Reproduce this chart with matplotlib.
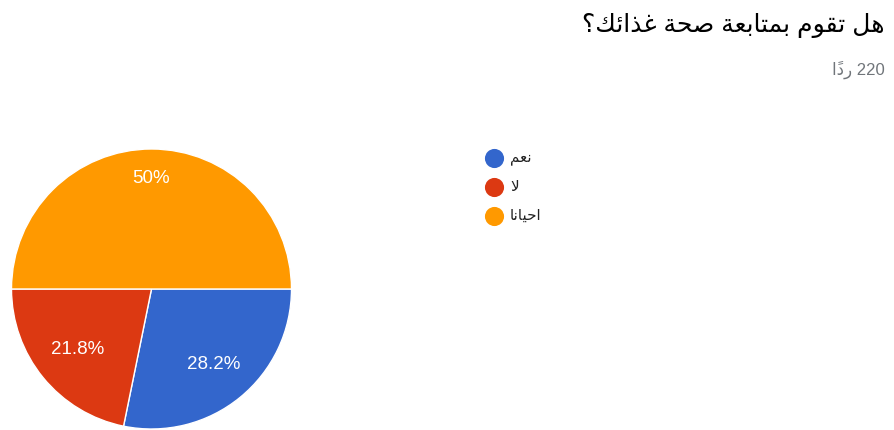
import matplotlib
matplotlib.use('Agg')
import matplotlib.pyplot as plt
import numpy as np

plt.rcParams['font.family'] = ['Liberation Sans', 'DejaVu Sans']

TITLE = 'هل تقوم بمتابعة صحة غذائك؟'
SUBTITLE = '220 رداً'
CATEGORIES = ['نعم', 'لا', 'احيانا']
SHARES = [28.2, 21.8, 50.0]
COLORS = ['#3366CC', '#DC3912', '#FF9900']

# Arabic presentation forms: (isolated, final[, initial, medial])
LAM_ALEF = '\uFEFB'
FORMS = {
    'ا': (0xFE8D, 0xFE8E),
    'ب': (0xFE8F, 0xFE90, 0xFE91, 0xFE92),
    'ة': (0xFE93, 0xFE94),
    'ت': (0xFE95, 0xFE96, 0xFE97, 0xFE98),
    'ح': (0xFEA1, 0xFEA2, 0xFEA3, 0xFEA4),
    'د': (0xFEA9, 0xFEAA),
    'ذ': (0xFEAB, 0xFEAC),
    'ر': (0xFEAD, 0xFEAE),
    'ص': (0xFEB9, 0xFEBA, 0xFEBB, 0xFEBC),
    'ع': (0xFEC9, 0xFECA, 0xFECB, 0xFECC),
    'غ': (0xFECD, 0xFECE, 0xFECF, 0xFED0),
    'ق': (0xFED5, 0xFED6, 0xFED7, 0xFED8),
    'ك': (0xFED9, 0xFEDA, 0xFEDB, 0xFEDC),
    'ل': (0xFEDD, 0xFEDE, 0xFEDF, 0xFEE0),
    'م': (0xFEE1, 0xFEE2, 0xFEE3, 0xFEE4),
    'ن': (0xFEE5, 0xFEE6, 0xFEE7, 0xFEE8),
    'ه': (0xFEE9, 0xFEEA, 0xFEEB, 0xFEEC),
    'و': (0xFEED, 0xFEEE),
    'ي': (0xFEF1, 0xFEF2, 0xFEF3, 0xFEF4),
    'ئ': (0xFE89, 0xFE8A, 0xFE8B, 0xFE8C),
    LAM_ALEF: (0xFEFB, 0xFEFC),
}
MARKS = {'\u064B'}


def shape_word(word):
    """Join Arabic letters into their contextual forms, returned in visual order."""
    groups = []
    for ch in word:
        if ch in MARKS and groups:
            groups[-1][1] += ch
        elif groups and groups[-1][0] == 'ل' and ch == 'ا':
            groups[-1][0] = LAM_ALEF
        else:
            groups.append([ch, ''])

    shaped = []
    for i, (ch, marks) in enumerate(groups):
        if ch not in FORMS:
            shaped.append(ch + marks)
            continue
        prev = groups[i - 1][0] if i > 0 else None
        nxt = groups[i + 1][0] if i + 1 < len(groups) else None
        link_prev = prev in FORMS and len(FORMS[prev]) == 4
        link_next = len(FORMS[ch]) == 4 and nxt in FORMS
        forms = FORMS[ch]
        if link_prev and link_next:
            code = forms[3]
        elif link_prev:
            code = forms[1]
        elif link_next:
            code = forms[2]
        else:
            code = forms[0]
        shaped.append(chr(code) + marks)
    return ''.join(reversed(shaped))


def rtl(text):
    tokens = text.split(' ')
    out = []
    for tok in reversed(tokens):
        if any('\u0600' <= c <= '\u06FF' for c in tok):
            out.append(shape_word(tok))
        else:
            out.append(tok)
    return ' '.join(out)


W, H = 895, 430
fig = plt.figure(figsize=(W / 100, H / 100), dpi=100)

# pie: centre (151.5, 289) px from top-left, radius 140 px
cx, cy, r = 151.5, 289, 140
ax = fig.add_axes([(cx - r) / W, (H - cy - r) / H, 2 * r / W, 2 * r / H])
wedges, _ = ax.pie(SHARES, colors=COLORS, startangle=0, counterclock=False,
                   wedgeprops=dict(edgecolor='white', linewidth=1))
ax.set_xlim(-1, 1)
ax.set_ylim(-1, 1)
ax.set_aspect('equal')

label_r = [0.70, 0.68, 0.79]
for w, share, lr in zip(wedges, SHARES, label_r):
    mid = np.deg2rad((w.theta1 + w.theta2) / 2)
    txt = f'{share:g}%'
    ax.text(lr * np.cos(mid), lr * np.sin(mid), txt, ha='center', va='center',
            color='white', fontsize=13.5)

# overlay in pixel coordinates for title and legend
ov = fig.add_axes([0, 0, 1, 1])
ov.set_xlim(0, W)
ov.set_ylim(H, 0)
ov.axis('off')

ov.text(885, 25, rtl(TITLE), ha='right', va='center', fontsize=18, color='#000000')
ov.text(885, 70, rtl(SUBTITLE), ha='right', va='center', fontsize=12, color='#70757a')

legend_y = [158, 187, 216]
for name, color, y in zip(CATEGORIES, COLORS, legend_y):
    ov.scatter([494], [y], s=190, color=color, linewidths=0)
    ov.text(510, y, rtl(name), ha='left', va='center', fontsize=11, color='#222222')

fig.savefig('out.png', dpi=100)
